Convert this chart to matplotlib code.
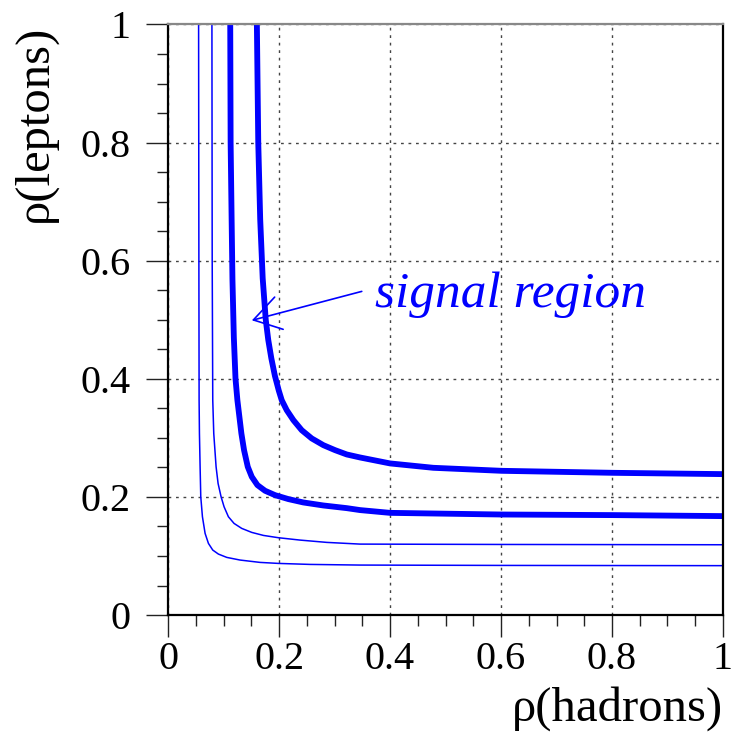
import matplotlib
matplotlib.use("Agg")
import matplotlib.pyplot as plt
from matplotlib.ticker import MultipleLocator

plt.rcParams['font.family'] = ['Liberation Serif', 'DejaVu Serif']

# contour lines in the (rho_had, rho_lep) plane, as (x, y) points along each line
thin_a_x = [0.055, 0.0555, 0.0559, 0.0565, 0.0577, 0.0589, 0.0619, 0.0667, 0.0727, 0.0805,
            0.0907, 0.1057, 0.1297, 0.1658, 0.1988, 0.2559, 0.3459, 0.60, 1.00]
thin_a_y = [1.000, 0.600, 0.3638, 0.3074, 0.2510, 0.2002, 0.1664, 0.1382, 0.1213, 0.1100,
            0.1032, 0.0976, 0.0931, 0.0891, 0.0874, 0.0857, 0.0846, 0.0840, 0.0836]

thin_b_x = [0.079, 0.0795, 0.0805, 0.0823, 0.0865, 0.0901, 0.0955, 0.1009, 0.1087, 0.1189,
            0.1327, 0.1508, 0.1718, 0.1988, 0.2378, 0.2859, 0.3459, 0.60, 1.00]
thin_b_y = [1.000, 0.600, 0.3638, 0.3074, 0.2510, 0.2228, 0.2002, 0.1833, 0.1664, 0.1551,
            0.1467, 0.1399, 0.1348, 0.1309, 0.1269, 0.1230, 0.1201, 0.1195, 0.1190]

thick_c_x = [0.112, 0.1127, 0.1145, 0.116, 0.1185, 0.1215, 0.1249, 0.1285, 0.1321, 0.1369,
             0.1436, 0.1508, 0.1610, 0.1748, 0.1928, 0.2168, 0.2438, 0.2799, 0.3219,
             0.3459, 0.40, 0.601, 0.802, 1.00]
thick_c_y = [1.000, 0.800, 0.670, 0.568, 0.470, 0.400, 0.3638, 0.3356, 0.3074, 0.2792,
             0.2510, 0.2341, 0.2200, 0.2104, 0.2030, 0.1963, 0.1906, 0.1855, 0.1810,
             0.1777, 0.1730, 0.1702, 0.1692, 0.1675]

thick_d_x = [0.160, 0.1625, 0.166, 0.1705, 0.176, 0.1805, 0.186, 0.1925, 0.1995, 0.2048,
             0.2138, 0.2258, 0.2408, 0.2589, 0.2799, 0.3009, 0.3219, 0.3459, 0.40, 0.478,
             0.601, 0.802, 1.00]
thick_d_y = [1.000, 0.800, 0.670, 0.570, 0.500, 0.466, 0.435, 0.405, 0.380, 0.3638,
             0.3469, 0.3300, 0.3130, 0.2990, 0.2876, 0.2792, 0.2719, 0.2668, 0.2567, 0.2493,
             0.2442, 0.2408, 0.2386]

major_ticks = [0, 0.2, 0.4, 0.6, 0.8, 1]
tick_labels = ['0', '0.2', '0.4', '0.6', '0.8', '1']

fig = plt.figure(figsize=(7.34, 7.41), dpi=100)
ax = fig.add_axes([0.229, 0.170, 0.756, 0.797])

blue = '#0000ff'
ax.plot(thin_a_x, thin_a_y, color=blue, lw=1.1)
ax.plot(thin_b_x, thin_b_y, color=blue, lw=1.1)
ax.plot(thick_c_x, thick_c_y, color=blue, lw=4.2, solid_joinstyle='round')
ax.plot(thick_d_x, thick_d_y, color=blue, lw=4.2, solid_joinstyle='round')

ax.set_xlim(0, 1)
ax.set_ylim(0, 1)

ax.set_xticks(major_ticks)
ax.set_xticklabels(tick_labels)
ax.set_yticks(major_ticks)
ax.set_yticklabels(tick_labels)
ax.xaxis.set_minor_locator(MultipleLocator(0.05))
ax.yaxis.set_minor_locator(MultipleLocator(0.05))
ax.tick_params(which='major', direction='out', length=16, width=1.0, labelsize=29, color='#222222')
ax.tick_params(axis='x', which='major', pad=3)
ax.tick_params(axis='y', which='major', pad=11)
ax.tick_params(which='minor', direction='out', length=8, width=1.0, color='#222222')
ax.tick_params(top=False, right=False, which='both')

# dotted grid at the major ticks
ax.grid(True, which='major', color='#444444', linestyle=(0, (2.0, 3.4)), lw=1.0)

for side in ['left', 'bottom', 'right']:
    ax.spines[side].set_linewidth(1.6)
    ax.spines[side].set_color('black')
ax.spines['top'].set_linewidth(1.6)
ax.spines['top'].set_color('#888888')

ax.set_xlabel('ρ(hadrons)', fontsize=35, loc='right')
ax.xaxis.set_label_coords(1.0, -0.12)
ax.set_ylabel('ρ(leptons)', fontsize=35, loc='top')
ax.yaxis.set_label_coords(-0.20, 1.0)

ax.annotate('', xy=(0.151, 0.499), xytext=(0.349, 0.548),
            arrowprops=dict(arrowstyle='->,head_length=0.95,head_width=0.6',
                            mutation_scale=20, color=blue, lw=1.2,
                            shrinkA=0, shrinkB=0))
ax.text(0.373, 0.522, 'signal region', color=blue, fontsize=37,
        style='italic', ha='left', va='baseline')

fig.savefig('out.png', dpi=100)
